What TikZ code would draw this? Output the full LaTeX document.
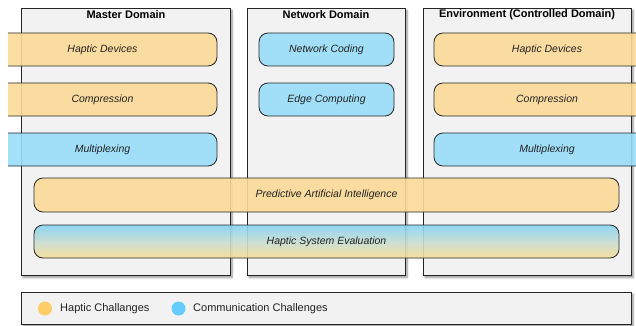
\documentclass[tikz,border=0pt]{standalone}
\usepackage{fontspec}
\setmainfont{Liberation Sans}
\usetikzlibrary{shadows.blur}
\definecolor{boxgray}{HTML}{F2F2F2}
\definecolor{hapyel}{HTML}{FDDA98}
\definecolor{comblue}{HTML}{99DDFA}
\definecolor{gradblue}{HTML}{86D3F3}
\definecolor{gradmid}{HTML}{C6DDD2}
\definecolor{gradyel}{HTML}{F8DC96}
\definecolor{legyel}{HTML}{FFCC66}
\definecolor{legblue}{HTML}{66CCFF}
\definecolor{txt}{HTML}{222222}
\begin{document}
\begin{tikzpicture}[x=1pt,y=-1pt,
  domainbox/.style={draw=black!85, fill=boxgray, line width=0.8pt, inner sep=0pt,
    blur shadow={shadow xshift=1.6pt, shadow yshift=-2pt, shadow blur steps=6, shadow opacity=45}},
  dtitle/.style={font=\fontsize{11}{13}\selectfont\bfseries, text=black, inner sep=0pt},
  pillstyle/.style={draw=black!85, line width=0.8pt, rounded corners=9pt, fill opacity=0.9},
  pill/.style={pillstyle, rectangle, inner sep=0pt, minimum height=33pt,
    font=\fontsize{10.5}{12}\selectfont\itshape, text=txt, text opacity=1},
  pilltext/.style={font=\fontsize{10.5}{12}\selectfont\itshape, text=txt, inner sep=0pt},
  legdot/.style={circle, inner sep=0pt, minimum size=14pt},
  legtext/.style={anchor=west, font=\fontsize{11}{13}\selectfont, text=txt, inner sep=0pt}
]
\useasboundingbox (0,0) rectangle (636,326);

% domain boxes
\node[domainbox, anchor=north west, minimum width=209pt, minimum height=267pt] (master) at (21,8) {};
\node[domainbox, anchor=north west, minimum width=158pt, minimum height=267pt] (network) at (247,8) {};
\node[domainbox, anchor=north west, minimum width=208pt, minimum height=267pt] (env) at (423,8) {};
\node[dtitle] (mtitle) at (126,15) {Master Domain};
\node[dtitle] (ntitle) at (326,15) {Network Domain};
\node[dtitle] (etitle) at (527,15) {Environment (Controlled Domain)};

% master pills (open to the left)
\path[pillstyle, fill=hapyel] (8,33) -- (217,33) -- (217,66) -- (8,66);
\node[pilltext] (mhd) at (102.5,50) {Haptic Devices};
\path[pillstyle, fill=hapyel] (8,83) -- (217,83) -- (217,116) -- (8,116);
\node[pilltext] (mco) at (102.5,100) {Compression};
\path[pillstyle, fill=comblue] (8,133) -- (217,133) -- (217,166) -- (8,166);
\node[pilltext] (mmu) at (102.5,150) {Multiplexing};

% network pills
\node[pill, fill=comblue, minimum width=135pt] (nc) at (326.5,49.5) {Network Coding};
\node[pill, fill=comblue, minimum width=135pt] (ec) at (326.5,99.5) {Edge Computing};

% environment pills (open to the right)
\path[pillstyle, fill=hapyel] (636,33) -- (434,33) -- (434,66) -- (636,66);
\node[pilltext] (ehd) at (547,50) {Haptic Devices};
\path[pillstyle, fill=hapyel] (636,83) -- (434,83) -- (434,116) -- (636,116);
\node[pilltext] (eco) at (547,100) {Compression};
\path[pillstyle, fill=comblue] (636,133) -- (434,133) -- (434,166) -- (636,166);
\node[pilltext] (emu) at (547,150) {Multiplexing};

% spanning pills
\node[pill, fill=hapyel, minimum width=585pt, minimum height=34pt] (pai) at (326.5,195) {Predictive Artificial Intelligence};
\node[pill, top color=gradblue, bottom color=gradyel, middle color=gradmid, minimum width=585pt, minimum height=33pt] (hse) at (326.5,241.5) {Haptic System Evaluation};

% legend
\node[domainbox, anchor=north west, minimum width=610pt, minimum height=32pt] (legend) at (21,292) {};
\node[legdot, fill=legyel] (ly) at (45,308.5) {};
\node[legtext] (lyt) at (60,308.5) {Haptic Challanges};
\node[legdot, fill=legblue] (lb) at (178.5,308.5) {};
\node[legtext] (lbt) at (193,308.5) {Communication Challenges};
\end{tikzpicture}
\end{document}
